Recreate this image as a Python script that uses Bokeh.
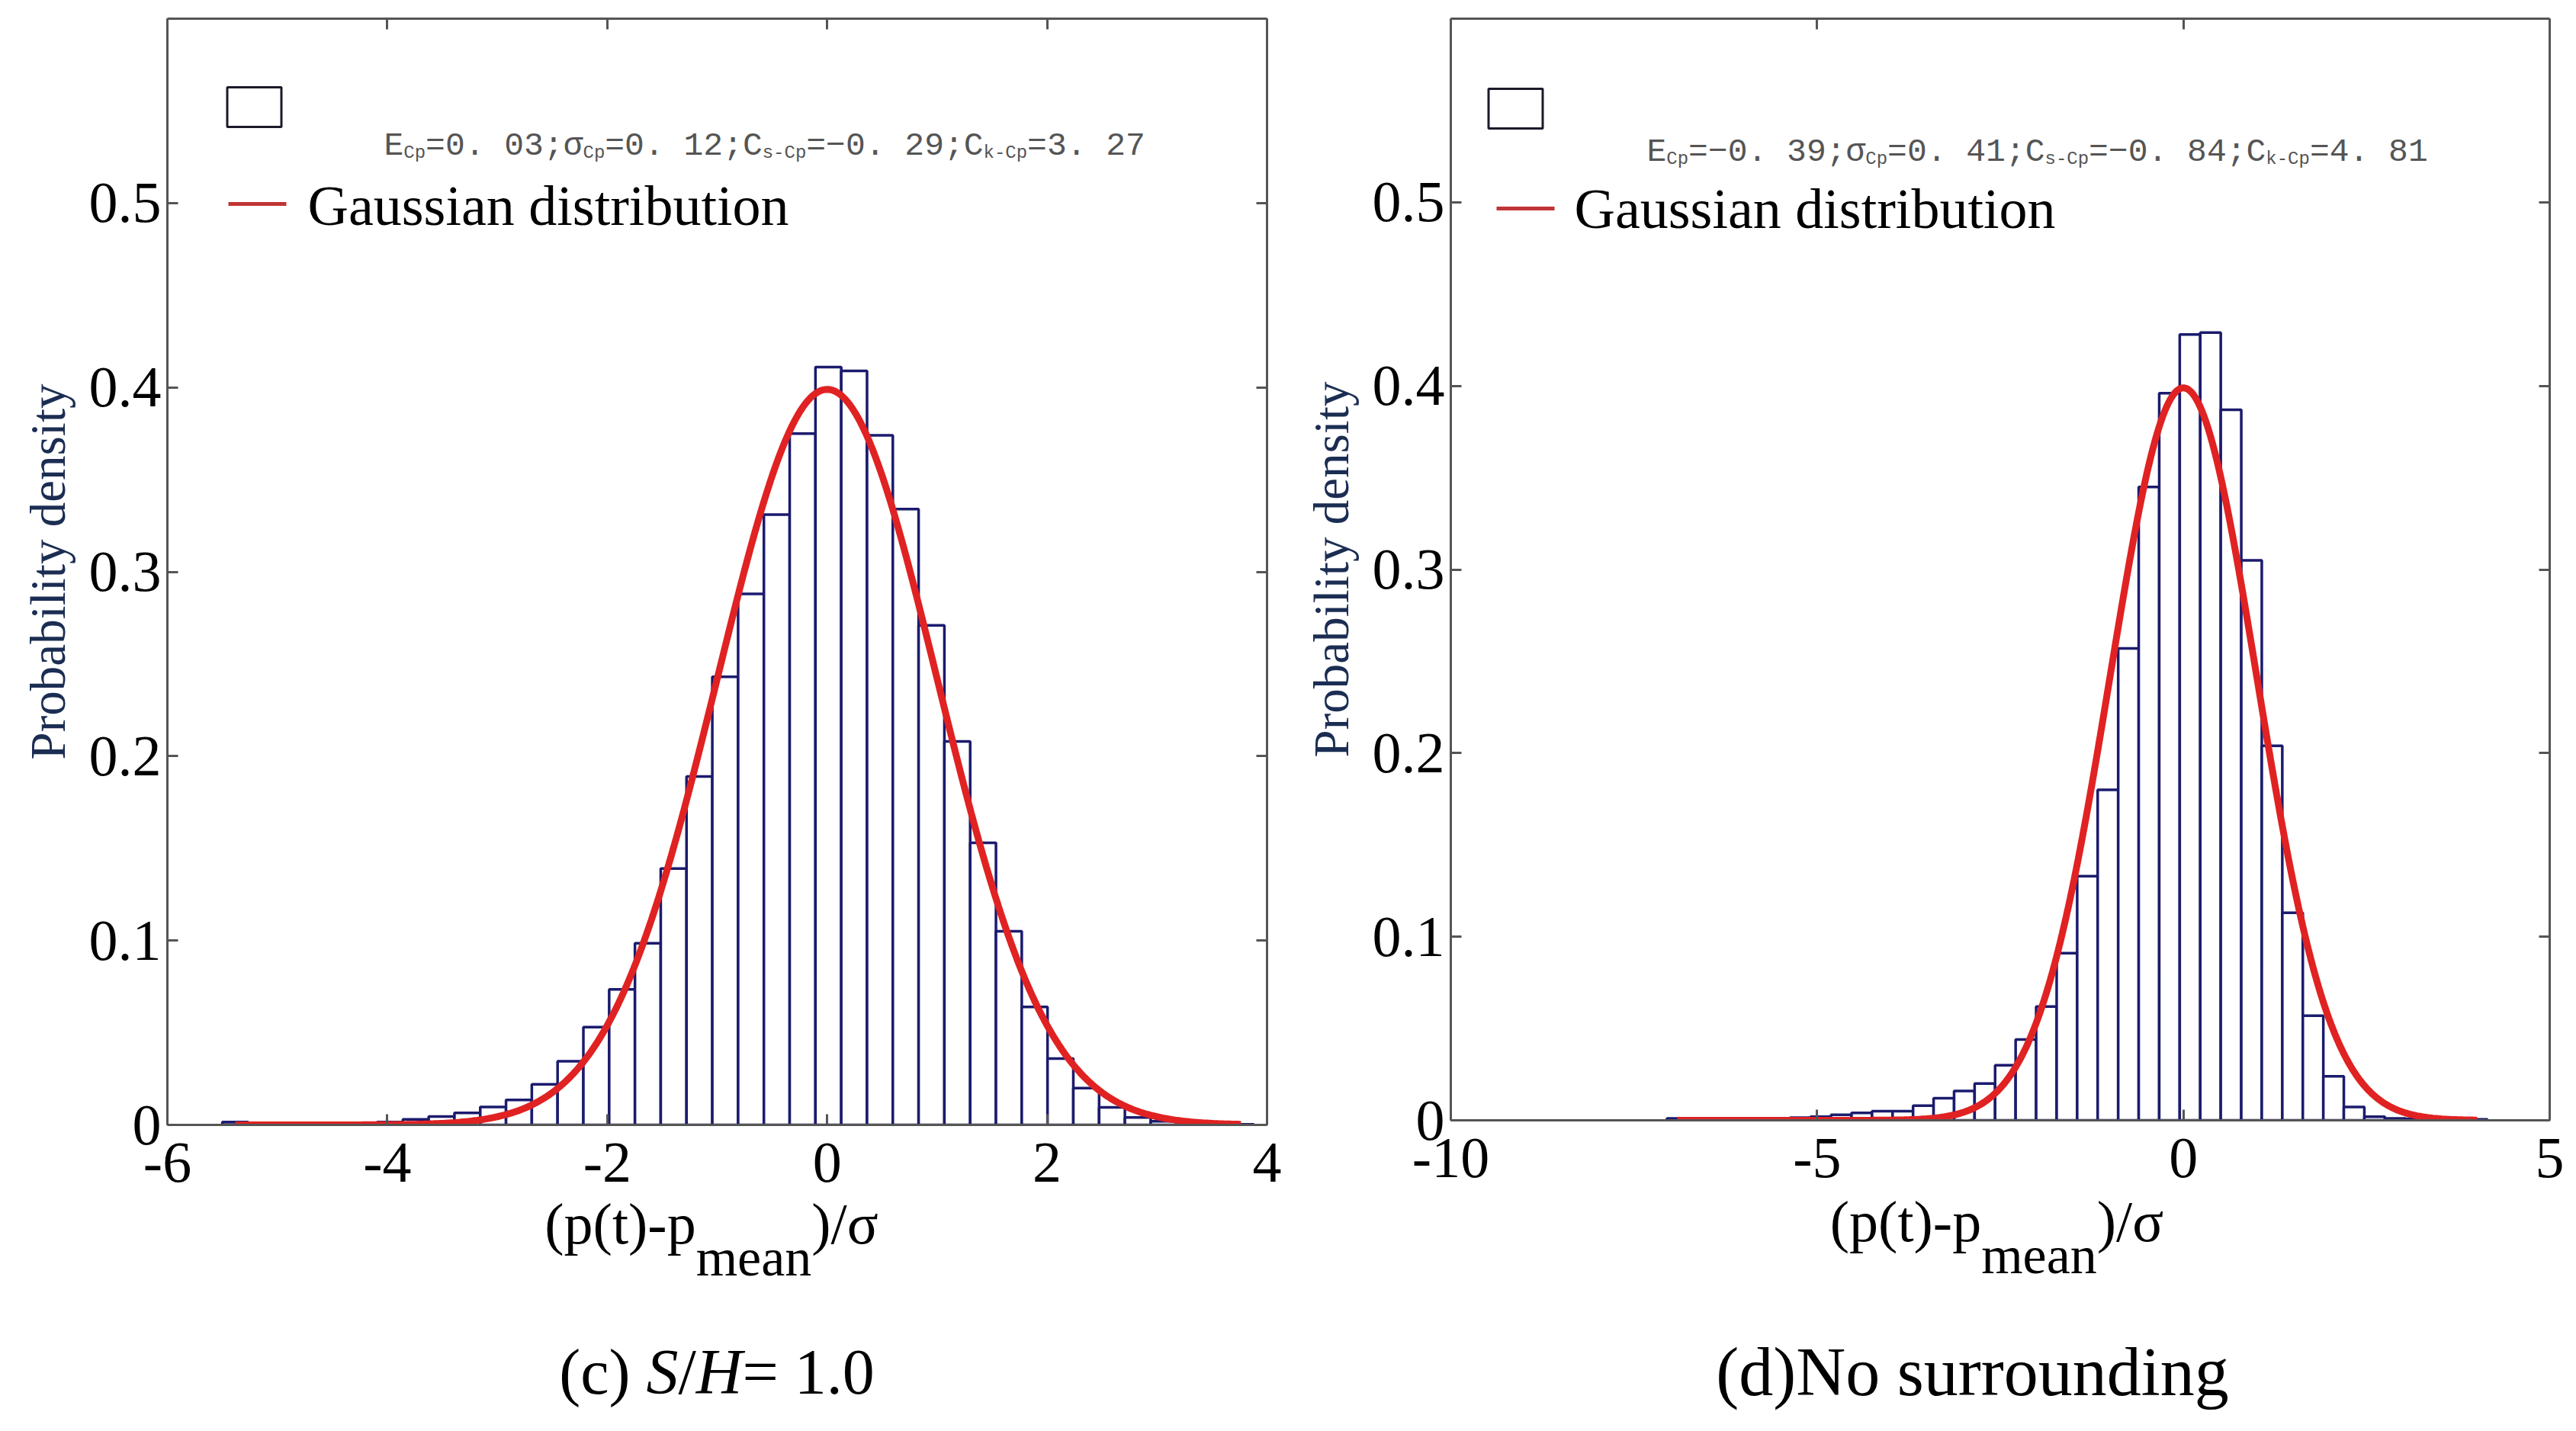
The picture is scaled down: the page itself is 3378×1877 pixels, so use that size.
import numpy as np
from bokeh.embed import file_html
from bokeh.layouts import column, row
from bokeh.models import (ColumnDataSource, CustomJSTickFormatter, Div, FixedTicker, Label,
                          LinearAxis, Range1d)
from bokeh.plotting import figure
from bokeh.resources import INLINE

# ---- values ----
Y_TICKS = [0, 0.1, 0.2, 0.3, 0.4, 0.5]

# (c) S/H = 1.0 : 40 equal bins between these edges
c_bin_lo, c_bin_hi = -5.50, 3.88
c_density = [0.0015, 0.0, 0.0, 0.0, 0.0005, 0.001, 0.0015, 0.003,
             0.0046, 0.0065, 0.0097, 0.0135, 0.022, 0.0345, 0.053, 0.0735,
             0.0985, 0.139, 0.189, 0.243, 0.288, 0.331, 0.375, 0.411,
             0.409, 0.374, 0.334, 0.271, 0.208, 0.153, 0.105, 0.064,
             0.036, 0.020, 0.0095, 0.004, 0.002, 0.001, 0.0005, 0.0003]
c_x_range = (-6, 4)
c_x_ticks = [-6, -4, -2, 0, 2, 4]
c_stats = [("E", "Cp", "=0. 03;"), ("σ", "Cp", "=0. 12;"),
           ("C", "s-Cp", "=−0. 29;"), ("C", "k-Cp", "=3. 27")]
c_caption = "(c) <i>S</i>/<i>H</i>= 1.0"

# (d) No surrounding
d_bin_lo, d_bin_hi = -7.05, 4.15
d_density = [0.001, 0.0008, 0.0008, 0.001, 0.001, 0.001, 0.0015, 0.002,
             0.003, 0.004, 0.005, 0.005, 0.008, 0.012, 0.016, 0.020,
             0.030, 0.044, 0.062, 0.091, 0.133, 0.180, 0.257, 0.345,
             0.396, 0.428, 0.429, 0.387, 0.305, 0.204, 0.113, 0.057,
             0.024, 0.0073, 0.002, 0.001, 0.0008, 0.0006, 0.0005, 0.0005]
d_x_range = (-10, 5)
d_x_ticks = [-10, -5, 0, 5]
d_stats = [("E", "Cp", "=−0. 39;"), ("σ", "Cp", "=0. 41;"),
           ("C", "s-Cp", "=−0. 84;"), ("C", "k-Cp", "=4. 81")]
d_caption = "(d)No surrounding"

# reference normal curve drawn over both histograms
gauss_mu, gauss_sigma = 0.0, 1.0

# ---- styling ----
SERIF = "Liberation Serif"
MONO = "Liberation Mono"
NAVY = "#1b1b6e"
RED = "#e02222"
LEG_RED = "#c03434"
FRAME = "#555555"
YLAB = "#1b2d52"
TOP = 24
BOTTOM = 110
DIV_H = 267


def make_panel(density, lo, hi, x_range, x_ticks, stats, geo):
    fw, fh = geo['frame_w'], geo['frame_h']
    width = geo['left'] + fw + geo['right']
    p = figure(width=width, height=TOP + fh + BOTTOM,
               x_range=Range1d(*x_range), y_range=Range1d(0, 0.6),
               x_axis_type=None, y_axis_type=None,
               min_border_left=geo['left'], min_border_right=geo['right'],
               min_border_top=TOP, min_border_bottom=BOTTOM,
               output_backend="svg", toolbar_location=None, tools="")
    p.grid.visible = False
    p.outline_line_color = None

    yfmt = CustomJSTickFormatter(code="return tick === 0 ? '0' : tick.toFixed(1);")
    xfmt = CustomJSTickFormatter(code="return String(tick);")
    blank = CustomJSTickFormatter(code="return '';")
    for loc, ticks, fmt, shown in [("left", Y_TICKS, yfmt, True),
                                   ("below", x_ticks, xfmt, True),
                                   ("right", Y_TICKS, blank, False),
                                   ("above", x_ticks, blank, False)]:
        ax = LinearAxis(ticker=FixedTicker(ticks=ticks), formatter=fmt)
        ax.major_tick_in = 14
        ax.major_tick_out = 0
        ax.minor_tick_in = 0
        ax.minor_tick_out = 0
        ax.axis_line_color = FRAME
        ax.axis_line_width = 3
        ax.major_tick_line_color = FRAME
        ax.major_tick_line_width = 3
        if shown:
            ax.major_label_text_font = SERIF
            ax.major_label_text_font_size = "76px"
            ax.major_label_text_color = "black"
            ax.major_label_standoff = 8 if loc == "left" else 24
        else:
            ax.major_label_text_font_size = "0px"
            ax.major_label_standoff = 0
        if loc == "left":
            ax.axis_label = "Probability density"
            ax.axis_label_text_font = SERIF
            ax.axis_label_text_font_size = "65px"
            ax.axis_label_text_font_style = "normal"
            ax.axis_label_text_color = YLAB
            ax.axis_label_standoff = 15
        p.add_layout(ax, loc)

    edges = np.linspace(lo, hi, len(density) + 1)
    src = ColumnDataSource(dict(left=edges[:-1], right=edges[1:], top=density))
    p.quad(left="left", right="right", top="top", bottom=0, source=src,
           fill_color="white", line_color=NAVY, line_width=3.5)

    centers = (edges[:-1] + edges[1:]) / 2
    gx = np.linspace(centers[0], centers[-1], 400)
    gy = np.exp(-0.5 * ((gx - gauss_mu) / gauss_sigma) ** 2) / (gauss_sigma * np.sqrt(2 * np.pi))
    p.line(gx, gy, line_color=RED, line_width=9)

    # legend block, placed by pixel offsets from the frame's top-left corner
    x0, x1 = x_range

    def at(dx, dy):
        return x0 + dx * (x1 - x0) / fw, 0.6 - dy * 0.6 / fh

    bx, by = at(*geo['leg_box'])
    p.rect(x=[bx], y=[by], width=71, height=52, width_units="screen", height_units="screen",
           fill_color=None, line_color="#1a1a2a", line_width=3)
    lx0, ly = at(geo['leg_line'][0], geo['leg_line'][2])
    lx1, _ = at(geo['leg_line'][1], geo['leg_line'][2])
    p.line(x=[lx0, lx1], y=[ly, ly], line_color=LEG_RED, line_width=5)
    p.add_layout(Label(x=x0, y=0.6, x_offset=geo['leg_text'][0], y_offset=-geo['leg_text'][1],
                       text="Gaussian distribution", text_font=SERIF, text_font_size="74px",
                       text_color="black", text_baseline="middle"))

    # statistics line with subscripts, monospace so advances are known
    main_sz, sub_sz = 43, 24
    dx = geo['stats_dx']
    for head, sub, tail in stats:
        for txt, sz, shift in [(head, main_sz, 0), (sub, sub_sz, -9), (tail, main_sz, 0)]:
            p.add_layout(Label(x=x0, y=0.6, x_offset=dx, y_offset=-geo['stats_dy'] + shift,
                               text=txt, text_font=MONO, text_font_size=f"{sz}px",
                               text_color="#555555", text_baseline="alphabetic"))
            dx += 0.6 * sz * len(txt)
    return p, width


def make_caption(width, geo, caption):
    fw = geo['frame_w']
    base = "position:absolute;text-align:center;white-space:nowrap;color:black;font-family:'Liberation Serif';"
    html = (
        f'<div style="position:relative;width:{width}px;height:{DIV_H}px;">'
        f'<div style="{base}left:{geo["left"] + geo["xlab_dx"]}px;top:{geo["xlab_top"]}px;width:{fw}px;'
        f'font-size:76px;line-height:34px;">(p(t)-p<span style="position:relative;top:42px;'
        f'font-size:70px;">mean</span>)/σ</div>'
        f'<div style="{base}left:{geo["left"] + geo["cap_dx"]}px;top:{geo["cap_top"]}px;width:{fw}px;'
        f'font-size:{geo["cap_size"]}px;line-height:{geo["cap_size"]}px;">{caption}</div>'
        '</div>'
    )
    return Div(text=html, width=width, height=DIV_H, margin=(0, 0, 0, 0))


geo_c = dict(left=219, right=40, frame_w=1442, frame_h=1451,
             leg_box=(114, 116), leg_line=(80, 156, 243), leg_text=(184, 245),
             stats_dx=284, stats_dy=167, xlab_dx=-7, xlab_top=3,
             cap_dx=0, cap_size=84, cap_top=173)
geo_d = dict(left=201, right=19, frame_w=1441, frame_h=1445,
             leg_box=(85, 118), leg_line=(60, 136, 249), leg_text=(162, 249),
             stats_dx=257, stats_dy=175, xlab_dx=-4, xlab_top=0,
             cap_dx=-36, cap_size=90, cap_top=170)

p_c, w_c = make_panel(c_density, c_bin_lo, c_bin_hi, c_x_range, c_x_ticks, c_stats, geo_c)
p_d, w_d = make_panel(d_density, d_bin_lo, d_bin_hi, d_x_range, d_x_ticks, d_stats, geo_d)
cap_c = make_caption(w_c, geo_c, c_caption)
cap_d = make_caption(w_d, geo_d, d_caption)

layout = column(row(p_c, p_d), row(cap_c, cap_d))
open("out.html", "w").write(file_html(layout, INLINE))
